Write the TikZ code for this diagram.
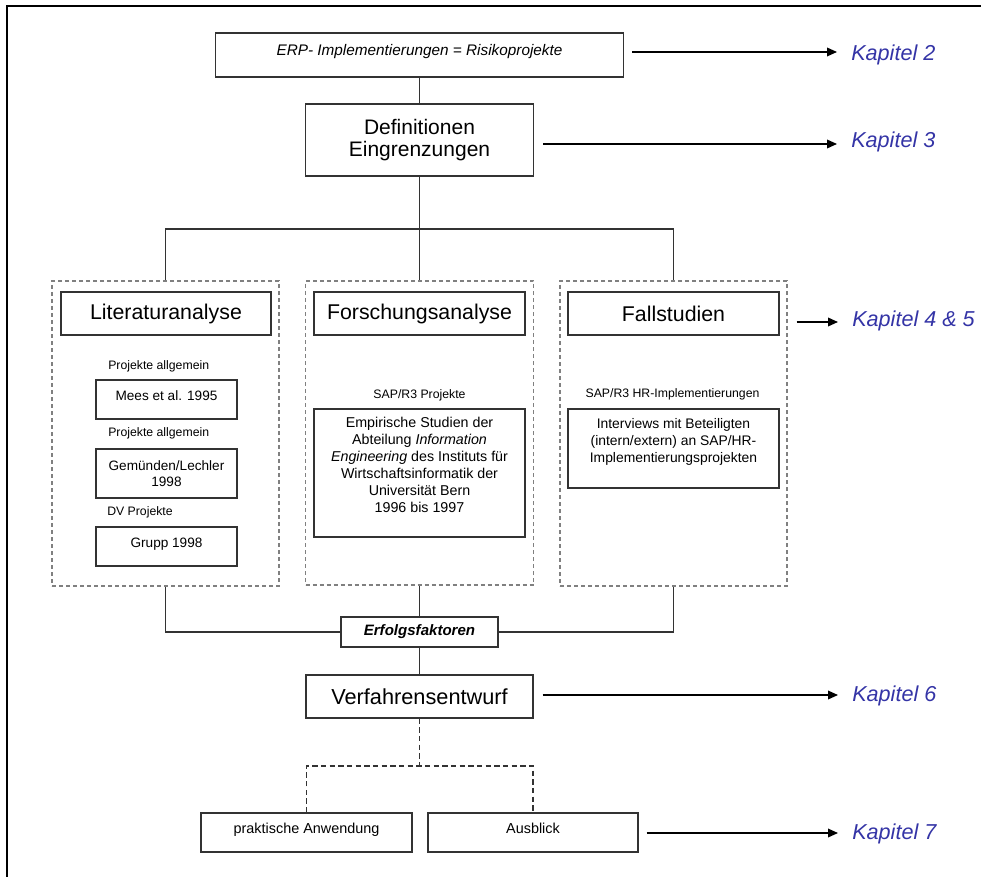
\documentclass[tikz,border=0pt]{standalone}
\usepackage{fontspec}
\setmainfont{Liberation Sans}
\usetikzlibrary{arrows.meta}
\newlength\pxu
\setlength\pxu{0.75pt}
\definecolor{kapblue}{RGB}{52,52,166}
\begin{document}
\begin{tikzpicture}[x=0.75pt,y=-0.75pt,
  box/.style={draw=black!80, line width=1.1pt, fill=white, inner sep=0pt},
  grp/.style={draw=black!50, line width=0.9pt, dash pattern=on 3pt off 2.25pt, inner sep=0pt},
  conn/.style={draw=black!80, line width=1pt},
  dconn/.style={conn, dash pattern=on 4pt off 2.5pt},
  arr/.style={draw=black, line width=1pt, -{Triangle[length=7.5pt,width=6.5pt]}},
  kap/.style={anchor=west, inner sep=0pt, text=kapblue, text depth=0pt, font=\fontsize{16.2}{19}\selectfont\itshape},
  lbl/.style={inner sep=0pt, font=\fontsize{9.2}{11}\selectfont},
  title/.style={box, font=\fontsize{16}{19}\selectfont},
  lift/.style={text height=7.5pt, text depth=#1}
]
\useasboundingbox (0,0) rectangle (981,877);
% outer frame (top and left)
\draw[line width=2pt] (7,877) -- (7,6) -- (981,6);

% top boxes
\node[box, minimum width=408\pxu, minimum height=44\pxu, font=\fontsize{11.5}{14}\selectfont\itshape, lift=6pt] (erp) at (419.5,55) {ERP- Implementierungen = Risikoprojekte};
\node[box, minimum width=228\pxu, minimum height=72\pxu, align=center, font=\fontsize{15.75}{16.5}\selectfont] (def) at (419.5,140) {Definitionen\\Eingrenzungen};

% group frames
\node[grp, minimum width=227\pxu, minimum height=305\pxu] (litg) at (165.5,433.5) {};
\node[grp, minimum width=228\pxu, minimum height=304\pxu] (forsg) at (419.5,433) {};
\node[grp, minimum width=227\pxu, minimum height=305\pxu] (fallg) at (673.5,433.5) {};

% group titles
\node[title, minimum width=210\pxu, minimum height=43\pxu] (lit) at (166,313.5) {Literaturanalyse};
\node[title, minimum width=211\pxu, minimum height=43\pxu] (fors) at (419.5,313.5) {Forschungsanalyse};
\node[title, minimum width=211\pxu, minimum height=43\pxu] (fall) at (673.5,313.5) {Fallstudien};

% Literaturanalyse content
\node[lbl, anchor=west] (pa1) at (108,366) {Projekte allgemein};
\node[box, minimum width=141\pxu, minimum height=39\pxu, font=\fontsize{10.2}{12}\selectfont, lift=5.5pt] (mees) at (166.5,399.5) {Mees et al. 1995};
\node[lbl, anchor=west] (pa2) at (108,433) {Projekte allgemein};
\node[box, minimum width=141\pxu, minimum height=49\pxu, align=center, font=\fontsize{10.2}{12}\selectfont] (gem) at (166.5,473.5) {Gemünden/Lechler\\1998};
\node[lbl, anchor=west] (dv) at (107,512) {DV Projekte};
\node[box, minimum width=141\pxu, minimum height=39\pxu, font=\fontsize{10.2}{12}\selectfont, lift=5.5pt] (grupp) at (166.5,546.5) {Grupp 1998};

% Forschungsanalyse content
\node[lbl] (sap) at (419.5,395) {SAP/R3 Projekte};
\node[box, minimum width=211\pxu, minimum height=128\pxu, inner ysep=5.8pt, font=\fontsize{10.7}{12.75}\selectfont] (emp) at (419.5,473) {\parbox[c][84pt][t]{205\pxu}{\centering Empirische Studien der\\Abteilung \textit{Information}\\\textit{Engineering} des Instituts für\\Wirtschaftsinformatik der\\Universität Bern\\1996 bis 1997}};

% Fallstudien content
\node[lbl] (saphr) at (672.5,394) {SAP/R3 HR-Implementierungen};
\node[box, minimum width=211\pxu, minimum height=79\pxu, inner ysep=7pt, font=\fontsize{10.4}{12.75}\selectfont] (int) at (673.5,448.5) {\parbox[c][45pt][t]{205\pxu}{\centering Interviews mit Beteiligten\\(intern/extern) an SAP/HR-\\Implementierungsprojekten}};

% lower boxes
\node[box, minimum width=157\pxu, minimum height=30\pxu, font=\fontsize{11.3}{13}\selectfont\bfseries\itshape] (erf) at (419.5,632) {Erfolgsfaktoren};
\node[box, minimum width=227\pxu, minimum height=43\pxu, font=\fontsize{16.3}{19}\selectfont] (verf) at (419.5,696.5) {Verfahrensentwurf};
\node[box, minimum width=211\pxu, minimum height=39\pxu, font=\fontsize{10.8}{13}\selectfont, lift=5.5pt] (prak) at (306.5,832.5) {praktische Anwendung};
\node[box, minimum width=210\pxu, minimum height=39\pxu, font=\fontsize{10.8}{13}\selectfont, lift=5.5pt] (aus) at (533,832.5) {Ausblick};

% connectors
\coordinate (br) at (419.5,229);
\draw[conn] (erp.south) -- (def.north);
\draw[conn] (def.south) -- (br);
\draw[conn] (litg.north) -- (litg.north |- br) -- (fallg.north |- br) -- (fallg.north);
\draw[conn] (br) -- (forsg.north);
\draw[conn] (litg.south) |- (erf.west);
\draw[conn] (fallg.south) |- (erf.east);
\draw[conn] (forsg.south) -- (erf.north);
\draw[conn] (erf.south) -- (verf.north);
\coordinate (db) at (419.5,766);
\draw[dconn] (verf.south) -- (db);
\draw[dconn] (prak.north) -- (prak.north |- db) -- (aus.north |- db) -- (aus.north);

% chapter references
\node[kap] (k2) at (851,52.5) {Kapitel 2};
\node[kap] (k3) at (851,139.5) {Kapitel 3};
\node[kap] (k45) at (852,319) {Kapitel 4 \& 5};
\node[kap] (k6) at (852,694) {Kapitel 6};
\node[kap] (k7) at (852,831.5) {Kapitel 7};
\coordinate (t2) at (837,52);
\coordinate (t3) at (837,144);
\coordinate (t45) at (838,322);
\coordinate (t6) at (838,695);
\coordinate (t7) at (838,833);
\draw[arr] ([xshift=8\pxu]erp.east |- t2) -- (t2);
\draw[arr] ([xshift=9\pxu]def.east |- t3) -- (t3);
\draw[arr] ([xshift=9\pxu]fallg.east |- t45) -- (t45);
\draw[arr] ([xshift=9\pxu]verf.east |- t6) -- (t6);
\draw[arr] ([xshift=8\pxu]aus.east |- t7) -- (t7);
\end{tikzpicture}
\end{document}
